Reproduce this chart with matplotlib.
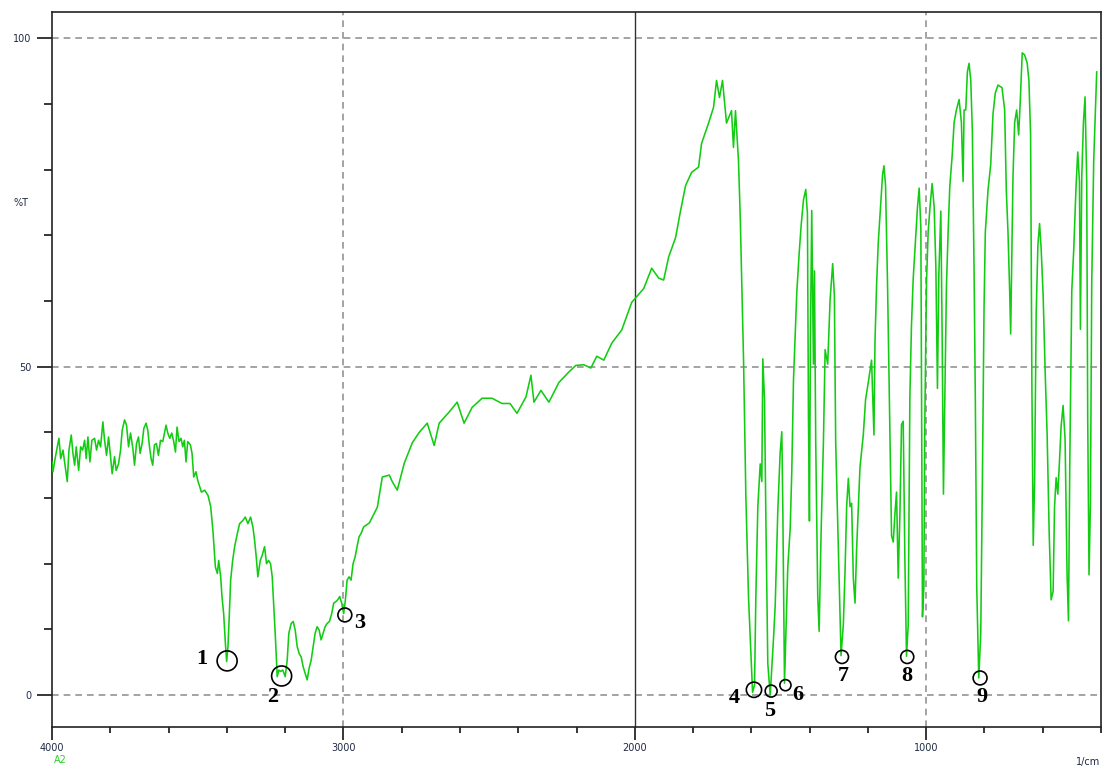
import matplotlib
matplotlib.use("Agg")
import matplotlib.pyplot as plt

# ---- spectrum data (wavenumber 1/cm, %T) ----
wavenumber = [
    4000.0, 3996.6, 3991.0, 3981.9, 3976.1, 3970.2, 3962.3, 3954.5, 3947.6, 3941.8,
    3933.9, 3928.1, 3922.3, 3916.8, 3908.6, 3901.7, 3894.9, 3888.0, 3882.6, 3876.8,
    3869.9, 3863.1, 3853.8, 3847.0, 3840.1, 3833.3, 3825.4, 3819.6, 3812.8, 3805.9,
    3799.1, 3793.6, 3785.3, 3779.8, 3771.6, 3764.7, 3759.2, 3751.0, 3744.2, 3737.3,
    3730.5, 3722.6, 3716.8, 3709.9, 3703.1, 3697.6, 3690.8, 3684.9, 3677.1, 3671.2,
    3665.4, 3659.9, 3654.4, 3648.5, 3641.6, 3634.8, 3627.7, 3619.8, 3614.0, 3608.6,
    3602.7, 3595.9, 3589.0, 3582.2, 3576.3, 3570.9, 3564.0, 3557.2, 3551.4, 3545.6,
    3540.0, 3534.2, 3525.0, 3519.4, 3513.6, 3505.8, 3500.0,
    3487.2, 3476.0, 3464.6, 3455.4, 3447.5, 3439.3, 3432.4, 3428.0, 3421.1, 3416.7,
    3410.9, 3405.0, 3400.6, 3396.1, 3391.3, 3386.9, 3380.0, 3373.2, 3364.0, 3356.1,
    3344.8, 3336.6, 3327.7, 3318.5, 3310.6, 3304.8, 3299.0, 3293.5, 3285.3, 3278.4,
    3270.6, 3263.7, 3256.9, 3250.0, 3244.2, 3238.7, 3232.9, 3227.1, 3221.6, 3215.8,
    3207.9, 3199.6, 3192.8, 3187.3, 3179.1, 3172.3, 3165.4, 3158.6, 3151.7, 3144.9,
    3138.0, 3131.2, 3124.3, 3117.5, 3110.6, 3103.8, 3097.0, 3090.1, 3083.3, 3076.4,
    3069.6, 3062.7, 3055.9, 3047.9, 3040.1, 3033.2, 3026.4, 3019.5, 3012.7, 3005.8,
    2999.0, 2993.1, 2987.3, 2980.5, 2973.6, 2966.8, 2959.9, 2953.1, 2946.2, 2939.4,
    2930.5,
    2910.9, 2883.5, 2866.4, 2842.4, 2832.2, 2815.1, 2791.1, 2763.7, 2739.7, 2712.3,
    2688.4, 2671.3, 2637.0, 2609.6, 2585.7, 2558.3, 2524.0, 2489.8, 2455.6, 2428.2,
    2404.2, 2373.4, 2356.3, 2346.0, 2322.1, 2294.7, 2260.4, 2226.2, 2202.2, 2174.8,
    2150.8, 2130.3, 2106.3, 2078.9, 2044.7, 2010.5, 1969.4, 1942.0, 1918.0, 1900.9,
    1883.8, 1859.8, 1842.7, 1825.6, 1805.0, 1781.1, 1770.8, 1746.8, 1729.7, 1719.4,
    1709.2, 1698.9, 1685.2, 1668.1, 1661.3, 1654.4, 1644.1,
    1638.0, 1632.4, 1626.7, 1618.8, 1609.6, 1601.7, 1595.8, 1589.0, 1584.5, 1577.7,
    1569.5, 1564.0, 1560.6, 1554.8, 1550.3, 1543.5, 1535.2, 1523.9, 1518.2, 1509.2,
    1501.2, 1495.4, 1492.0, 1486.2, 1474.9, 1466.6, 1461.2, 1455.3, 1444.0, 1435.8,
    1428.9, 1421.1, 1413.2, 1407.5, 1404.0, 1400.6, 1397.2, 1392.7, 1386.9, 1383.4,
    1379.0, 1372.1, 1367.3, 1360.5, 1352.6, 1346.8, 1337.9, 1329.7, 1320.8, 1315.0,
    1310.5, 1301.3, 1292.1, 1284.2, 1278.4, 1272.9, 1267.1, 1261.3, 1255.8, 1250.0,
    1244.2, 1238.7, 1227.1, 1215.8, 1207.9, 1196.3, 1187.4, 1179.2, 1175.7, 1170.2,
    1164.4, 1156.5, 1149.7, 1144.9, 1139.4, 1132.5, 1124.3, 1118.8, 1113.0, 1107.2,
    1101.7, 1095.9, 1090.1, 1084.6, 1078.8, 1073.0, 1067.5,
    1061.7, 1055.9, 1050.4, 1044.5, 1036.7, 1029.8, 1024.0, 1018.2, 1016.1, 1012.7,
    1007.9, 1004.5, 999.0, 993.2, 986.3, 979.5, 972.6, 966.8, 961.3, 956.5,
    949.7, 945.2, 940.7, 935.9, 930.5, 924.7, 918.9, 911.0, 904.1, 896.3,
    887.0, 879.1, 873.3, 869.9, 864.1, 858.6, 852.8, 846.9, 841.5, 835.6,
    831.2, 826.4, 819.5, 812.7, 807.2, 801.4, 797.0, 787.7, 778.5, 770.6,
    762.7, 753.5, 739.8, 730.6, 725.0, 719.2, 713.4, 710.0, 706.6, 702.1,
    696.3, 689.4, 682.6, 677.1, 670.3, 662.1, 653.2, 647.4, 641.6, 637.1,
    632.6, 627.9, 622.4, 616.6, 610.8, 605.3, 598.5, 591.6, 584.8, 577.9,
    571.1, 564.3, 559.5, 554.0, 548.2, 542.4, 536.9, 530.1, 523.2, 516.4,
    511.6, 507.2, 500.3, 493.5, 485.6, 479.8, 474.0, 470.6, 466.1, 460.3,
    454.8, 449.0, 445.6, 441.1, 436.3, 431.8, 425.0, 419.2, 414.7,
]

transmittance = [
    35.5, 34.0, 35.6, 37.8, 39.1, 36.0, 37.3, 34.7, 32.5, 37.3,
    39.6, 36.8, 35.0, 37.8, 34.2, 37.8, 37.3, 38.8, 36.0, 39.3,
    35.5, 38.8, 39.1, 37.3, 38.8, 37.8, 41.6, 38.8, 36.5, 39.3,
    36.3, 33.7, 36.3, 34.2, 35.2, 37.3, 40.3, 41.9, 41.1, 37.8,
    39.9, 37.6, 35.0, 38.3, 39.3, 36.8, 38.3, 40.6, 41.4, 40.3,
    37.8, 36.0, 35.0, 38.1, 38.3, 36.5, 38.8, 38.6, 39.9, 41.1,
    39.9, 39.1, 39.9, 38.6, 37.0, 40.8, 38.6, 39.1, 37.8, 38.8,
    35.5, 38.6, 38.1, 36.8, 33.2, 34.0, 32.7,
    30.9, 31.2, 30.4, 28.7, 24.9, 19.5, 18.5, 20.5, 18.0, 15.0,
    12.4, 7.9, 5.1, 7.4, 12.4, 17.5, 20.5, 22.6, 24.6, 26.1,
    26.6, 27.1, 26.1, 27.1, 25.6, 23.6, 21.0, 18.0, 20.5, 21.3,
    22.6, 20.0, 20.5, 20.0, 18.0, 13.4, 8.4, 2.8, 3.8, 3.6,
    3.8, 2.8, 5.3, 9.4, 10.9, 11.2, 9.9, 7.4, 6.3, 5.8,
    4.3, 3.3, 2.3, 4.1, 5.3, 7.4, 9.4, 10.4, 9.9, 8.4,
    9.4, 10.4, 10.9, 11.2, 12.4, 14.0, 14.2, 14.5, 15.0, 14.0,
    12.4, 14.5, 17.5, 18.0, 17.5, 20.0, 21.0, 22.6, 24.1, 24.6,
    25.6,
    26.2, 28.6, 33.2, 33.5, 32.5, 31.2, 35.3, 38.4, 40.0, 41.4,
    38.0, 41.4, 43.1, 44.6, 41.4, 43.8, 45.2, 45.2, 44.4, 44.4,
    42.9, 45.4, 48.7, 44.6, 46.4, 44.6, 47.6, 49.2, 50.2, 50.3,
    49.8, 51.6, 51.0, 53.6, 55.6, 59.8, 61.9, 65.0, 63.5, 63.2,
    66.7, 69.7, 73.8, 77.6, 79.6, 80.4, 84.0, 87.1, 89.5, 93.6,
    91.0, 93.6, 87.1, 89.0, 83.4, 89.0, 81.4,
    72.7, 62.1, 51.0, 30.3, 14.8, 6.4, 0.4, 1.5, 15.0, 28.7,
    35.2, 32.5, 51.2, 45.0, 27.6, 4.8, 0.0, 8.6, 13.5, 28.0,
    36.8, 40.1, 28.7, 1.8, 19.5, 25.4, 34.0, 48.0, 61.3, 67.3,
    71.6, 75.4, 77.0, 73.3, 42.8, 26.5, 54.2, 73.8, 50.4, 64.6,
    38.5, 15.1, 9.7, 24.9, 38.5, 52.6, 50.4, 60.2, 65.7, 60.8,
    38.5, 22.2, 6.0, 10.8, 18.9, 28.7, 33.0, 28.7, 29.2, 17.8,
    14.0, 22.2, 34.7, 39.6, 45.0, 48.3, 51.0, 39.6, 53.7, 62.4,
    68.9, 74.3, 79.2, 80.6, 77.6, 62.4, 40.1, 24.3, 23.3, 27.6,
    30.9, 17.8, 27.6, 41.2, 41.7, 20.5, 5.9,
    10.6, 45.4, 56.3, 63.4, 69.2, 74.3, 77.2, 71.1, 49.9, 11.9,
    16.4, 42.1, 62.7, 70.5, 74.6, 77.9, 74.3, 65.3, 46.7, 64.0,
    73.7, 55.0, 30.6, 45.4, 62.1, 70.5, 77.5, 82.0, 87.2, 89.1,
    90.7, 87.2, 78.2, 89.1, 89.1, 94.9, 96.2, 93.6, 85.9, 64.7,
    44.7, 16.4, 2.6, 9.3, 31.9, 58.9, 70.5, 76.9, 80.8, 88.5,
    91.7, 92.9, 92.5, 89.1, 76.9, 70.5, 61.5, 55.0, 65.3, 78.8,
    87.2, 89.1, 85.3, 90.4, 97.8, 97.5, 96.2, 93.6, 85.3, 46.7,
    22.8, 32.5, 58.2, 68.5, 71.8, 67.9, 60.8, 49.2, 39.6, 24.8,
    14.5, 15.8, 28.6, 33.1, 30.6, 35.7, 40.9, 44.1, 38.9, 18.3,
    11.3, 35.1, 61.5, 67.9, 77.5, 82.7, 78.2, 55.7, 78.8, 87.2,
    91.1, 78.2, 42.1, 18.3, 29.3, 62.7, 81.4, 89.1, 94.9,
]

# ---- marked peaks ----
peak_labels = ["1", "2", "3", "4", "5", "6", "7", "8", "9"]
peak_wn = [3399, 3212, 2995, 1591, 1532, 1483, 1289, 1065, 815]
peak_t = [5.2, 2.9, 12.2, 0.8, 0.6, 1.5, 5.8, 5.8, 2.6]
peak_circle_pt = [14.4, 14.4, 10.0, 11.0, 8.6, 8.0, 9.4, 9.4, 10.0]
peak_label_offset = [(-18, 1), (-6.5, -15), (11, -6), (-14, -6), (-1, -14),
                     (9, -7), (1, -14), (0, -14), (1.5, -14)]

x_major = [4000, 3000, 2000, 1000]
x_minor = list(range(3800, 399, -200))
y_major = [0, 50, 100]
y_minor = list(range(10, 100, 10))

plt.rcParams["lines.scale_dashes"] = False

fig = plt.figure(figsize=(11.05, 7.66), dpi=100)
ax = fig.add_axes([52 / 1105, 39 / 766, 1049 / 1105, (727 - 11.5) / 766])

ax.set_xlim(4000, 405)
ax.set_ylim(-4.87, 104.1)

grid_kw = dict(color="#8a8a8a", lw=1.1, linestyle=(0, (4.8, 3.6)), zorder=1)
for v in [3000, 1000]:
    ax.axvline(v, **grid_kw)
for v in y_major:
    ax.axhline(v, **grid_kw)
ax.axvline(2000, color="#333333", lw=1.0, zorder=1)

ax.plot(wavenumber, transmittance, color="#12cc12", lw=1.15, zorder=3)

for lab, w, t, d, off in zip(peak_labels, peak_wn, peak_t, peak_circle_pt, peak_label_offset):
    ax.scatter([w], [t], s=d ** 2, facecolors="none", edgecolors="black",
               linewidths=1.2, zorder=4)
    ax.annotate(lab, (w, t), xytext=off, textcoords="offset points",
                ha="center", va="center", fontsize=16, fontweight="bold",
                family="Liberation Serif", color="black", zorder=5)

ax.set_xticks(x_major)
ax.set_xticks(x_minor, minor=True)
ax.set_yticks(y_major)
ax.set_yticks(y_minor, minor=True)
ax.set_xticklabels([str(v) for v in x_major])
ax.set_yticklabels([str(v) for v in y_major])

tick_color = "#1f2a44"
ax.tick_params(axis="x", which="major", length=9.5, width=1.1, direction="out",
               labelsize=7, labelcolor=tick_color, pad=2)
ax.tick_params(axis="x", which="minor", length=4.5, width=1.1, direction="out")
ax.tick_params(axis="y", which="major", length=11, width=1.1, direction="out",
               labelsize=7, labelcolor=tick_color, pad=4)
ax.tick_params(axis="y", which="minor", length=6, width=1.1, direction="out")

for s in ax.spines.values():
    s.set_linewidth(1.2)
    s.set_color("#222222")

fig.text(21 / 1105, 1 - 203 / 766, "%T", fontsize=7, color=tick_color,
         ha="center", va="center")
fig.text(1088 / 1105, 1 - 762 / 766, "1/cm", fontsize=7, color=tick_color,
         ha="center", va="center")
fig.text(60 / 1105, 1 - 760 / 766, "A2", fontsize=7, color="#33cc33",
         ha="center", va="center")

fig.savefig("out.png", dpi=100)
